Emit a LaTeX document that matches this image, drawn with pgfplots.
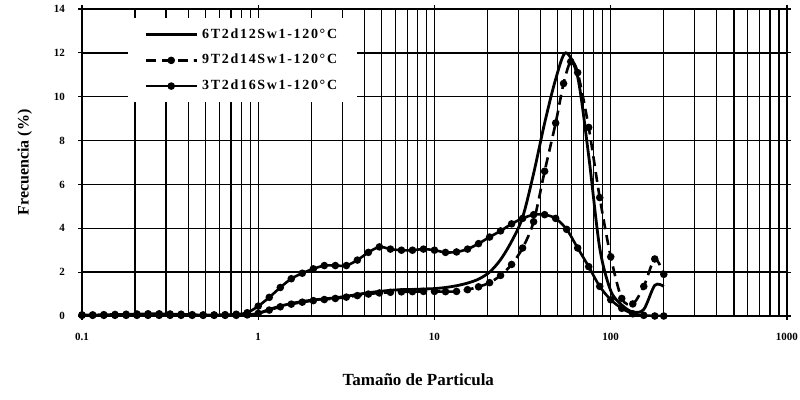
\documentclass[border=0pt]{standalone}
\usepackage{fontspec}
\setmainfont{Liberation Serif}
\newfontfamily\legfont[LetterSpace=12]{Liberation Serif}
\usepackage{pgfplots}
\pgfplotsset{compat=1.18}
\usepackage{pgfplotstable}

% 6T2d12Sw1-120C
\pgfplotstableread{
x y
0.1 0.02
0.115 0.02
0.133 0.02
0.154 0.02
0.178 0.02
0.205 0.02
0.237 0.02
0.274 0.02
0.316 0.02
0.365 0.02
0.422 0.02
0.487 0.02
0.562 0.02
0.649 0.02
0.750 0.03
0.866 0.05
1 0.12
1.155 0.30
1.334 0.45
1.540 0.57
1.778 0.66
2.054 0.73
2.371 0.78
2.738 0.83
3.162 0.90
3.652 0.98
4.217 1.06
4.870 1.12
5.623 1.17
6.494 1.20
7.499 1.21
8.660 1.23
10 1.25
11.55 1.30
13.34 1.38
15.40 1.50
17.78 1.68
20.54 2.00
23.71 2.57
27.38 3.40
31.62 4.50
36.52 6.50
42.17 8.80
48.70 10.80
55.50 12.00
64.94 10.90
74.99 7.30
86.60 3.10
100 1.15
115.5 0.50
133.4 0.18
154.0 0.30
177.8 1.40
200 1.35
}\serA

% 9T2d14Sw1-120C
\pgfplotstableread{
x y
0.1 0.03
0.115 0.03
0.133 0.03
0.154 0.03
0.178 0.03
0.205 0.03
0.237 0.03
0.274 0.03
0.316 0.03
0.365 0.03
0.422 0.03
0.487 0.03
0.562 0.03
0.649 0.03
0.750 0.03
0.866 0.05
1 0.12
1.155 0.27
1.334 0.42
1.540 0.54
1.778 0.63
2.054 0.70
2.371 0.75
2.738 0.80
3.162 0.86
3.652 0.93
4.217 1.00
4.870 1.05
5.623 1.08
6.494 1.10
7.499 1.11
8.660 1.12
10 1.12
11.55 1.11
13.34 1.12
15.40 1.20
17.78 1.33
20.54 1.52
23.71 1.85
27.38 2.35
31.62 3.10
36.52 4.30
42.17 6.60
48.70 8.80
54.00 10.60
59.30 11.60
64.94 11.10
74.99 8.60
86.60 5.40
100 2.70
115.5 0.80
133.4 0.55
154.0 1.35
177.8 2.60
200 1.90
}\serB

% 3T2d16Sw1-120C
\pgfplotstableread{
x y
0.1 0.05
0.115 0.05
0.133 0.06
0.154 0.07
0.178 0.08
0.205 0.09
0.237 0.10
0.274 0.10
0.316 0.09
0.365 0.08
0.422 0.06
0.487 0.05
0.562 0.05
0.649 0.06
0.750 0.08
0.866 0.15
1 0.45
1.155 0.85
1.334 1.30
1.540 1.70
1.778 1.95
2.054 2.15
2.371 2.30
2.738 2.30
3.162 2.30
3.652 2.55
4.217 2.90
4.870 3.15
5.623 3.05
6.494 3.00
7.499 3.00
8.660 3.05
10 3.00
11.55 2.90
13.34 2.92
15.40 3.05
17.78 3.30
20.54 3.60
23.71 3.88
27.38 4.20
31.62 4.45
36.52 4.62
42.17 4.62
48.70 4.45
56.23 3.95
64.94 3.10
74.99 2.25
86.60 1.35
100 0.74
115.5 0.35
133.4 0.10
154.0 0.03
177.8 0.00
200 0.00
}\serC

\begin{document}
\begin{tikzpicture}
\path[use as bounding box] (-41pt,-42pt) rectangle (359pt,158pt);
\begin{axis}[
  at={(0,0)}, anchor=south west,
  scale only axis,
  width=352.5pt, height=153.5pt,
  xmode=log,
  xmin=0.1, xmax=1000,
  ymin=0, ymax=14,
  xtick={0.1,1,10,100,1000},
  xticklabels={0.1,1,10,100,1000},
  minor xtick={0.2,0.3,0.4,0.5,0.6,0.7,0.8,0.9,2,3,4,5,6,7,8,9,20,30,40,50,60,70,80,90,200,300,400,500,600,700,800,900},
  ytick={0,2,4,6,8,10,12,14},
  yticklabels={0,2,4,6,8,10,12,14},
  grid=both,
  major grid style={black, line width=0.7pt},
  minor grid style={black, line width=0.6pt},
  axis line style={black, line width=0.9pt},
  tick style={black, line width=0.6pt},
  tick align=outside,
  major tick length=2pt,
  minor tick length=0pt,
  ticklabel style={font=\bfseries\fontsize{5.5}{6}\selectfont},
  xticklabel style={yshift=-3pt},
  yticklabel style={xshift=-3pt},
  xlabel={Tamaño de Particula},
  ylabel={Frecuencia (\%)},
  xlabel style={font=\bfseries\fontsize{8.5}{10}\selectfont, at={(axis description cs:0.477,-0.208)}, anchor=center},
  ylabel style={font=\bfseries\fontsize{8}{9}\selectfont, at={(axis description cs:-0.081,0.5)}, anchor=center},
  legend style={at={(axis description cs:0.065,0.971)}, anchor=north west, draw=none, fill=white,
    font=\legfont\bfseries\fontsize{7}{8}\selectfont, inner xsep=8pt, inner ysep=3pt, row sep=2.5pt},
  legend cell align=left,
  legend image code/.code={\draw[#1, mark repeat=2, mark phase=2] plot coordinates {(0cm,0cm) (0.45cm,0cm) (0.9cm,0cm)};},
]
\addplot[black, line width=1.4pt, smooth, tension=0.5] table {\serA};
\addlegendentry{6T2d12Sw1-120°C}
\addplot[black, line width=1.3pt, smooth, tension=0.5, dash pattern=on 5pt off 3pt,
  mark=*, mark size=1.2pt, mark options={solid}] table {\serB};
\addlegendentry{9T2d14Sw1-120°C}
\addplot[black, line width=1.3pt, smooth, tension=0.5,
  mark=*, mark size=1.2pt, mark options={solid}] table {\serC};
\addlegendentry{3T2d16Sw1-120°C}
\end{axis}
\end{tikzpicture}
\end{document}
